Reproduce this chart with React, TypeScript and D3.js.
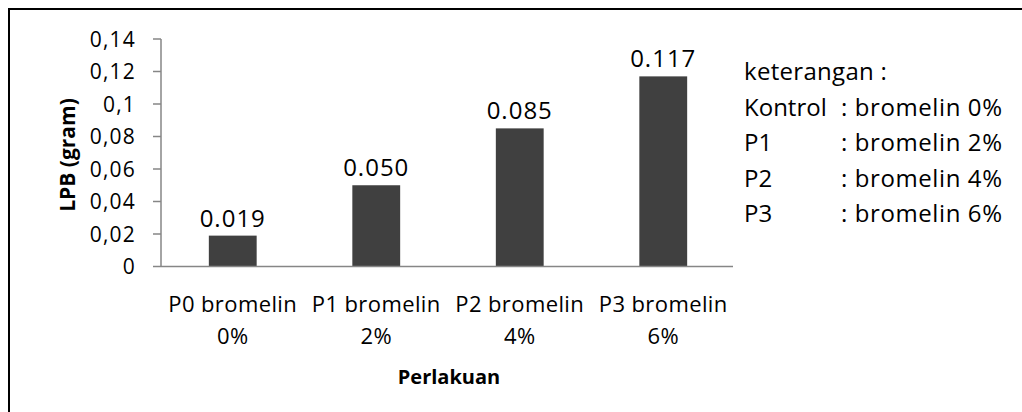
import React from "react";
import * as d3 from "d3";

const categories = ["P0 bromelin", "P1 bromelin", "P2 bromelin", "P3 bromelin"];
const categoryDoses = ["0%", "2%", "4%", "6%"];
const lpbValues = [0.019, 0.05, 0.085, 0.117];
const yTicks = [0, 0.02, 0.04, 0.06, 0.08, 0.1, 0.12, 0.14];
const legendTitle = "keterangan :";
const legendLabels = ["Kontrol", "P1", "P2", "P3"];
const legendDescs = [": bromelin 0%", ": bromelin 2%", ": bromelin 4%", ": bromelin 6%"];

const FONT = "'Open Sans', 'Noto Sans', sans-serif";

const commaLocale = d3.formatLocale({
  decimal: ",",
  thousands: ".",
  grouping: [3],
  currency: ["", ""],
});
const tickFmt = commaLocale.format("~g");
const labelFmt = d3.format(".3f");

const App: React.FC = () => {
  const width = 1022;
  const height = 412;
  const plot = { left: 161, right: 735, top: 39, bottom: 266.5 };

  const x = d3
    .scaleBand<string>()
    .domain(categories)
    .range([plot.left, plot.right])
    .paddingInner(2 / 3)
    .paddingOuter(1 / 3);

  const y = d3.scaleLinear().domain([0, 0.14]).range([plot.bottom, plot.top]);

  const axisColor = "#868686";
  const legendStep = 35.5;

  return (
    <svg
      width={width}
      height={height}
      style={{ position: "absolute", left: 0, top: 0, background: "#fff" }}
      fontFamily={FONT}
    >
      {/* outer frame, only top and left edge in view */}
      <rect x={9} y={9} width={1100} height={500} fill="none" stroke="#000" strokeWidth={2} />

      {/* bars */}
      {lpbValues.map((v, i) => (
        <rect
          key={categories[i]}
          x={x(categories[i])!}
          y={y(v)}
          width={x.bandwidth()}
          height={y(0) - y(v)}
          fill="#404040"
        />
      ))}

      {/* value labels */}
      {lpbValues.map((v, i) => (
        <text
          key={"l" + i}
          x={x(categories[i])! + x.bandwidth() / 2}
          y={y(v) - 9}
          textAnchor="middle"
          fontSize={24}
          letterSpacing={1}
          fill="#000"
        >
          {labelFmt(v)}
        </text>
      ))}

      {/* y axis */}
      <line x1={plot.left} x2={plot.left} y1={plot.top} y2={plot.bottom} stroke={axisColor} strokeWidth={1.5} />
      {yTicks.map((t) => (
        <g key={t}>
          <line x1={plot.left - 8} x2={plot.left} y1={y(t)} y2={y(t)} stroke={axisColor} strokeWidth={1.5} />
          <text
            x={136}
            y={y(t)}
            dy="0.36em"
            textAnchor="end"
            fontSize={21}
            letterSpacing={1.2}
            fill="#000"
          >
            {tickFmt(t)}
          </text>
        </g>
      ))}

      {/* x axis */}
      <line x1={plot.left} x2={plot.right - 2} y1={plot.bottom} y2={plot.bottom} stroke={axisColor} strokeWidth={1.5} />
      {categories.map((c, i) => (
        <text
          key={c}
          x={x(c)! + x.bandwidth() / 2}
          textAnchor="middle"
          fontSize={22}
          letterSpacing={0.4}
          fill="#000"
        >
          <tspan x={x(c)! + x.bandwidth() / 2} y={312}>{c}</tspan>
          <tspan x={x(c)! + x.bandwidth() / 2} y={344}>{categoryDoses[i]}</tspan>
        </text>
      ))}

      {/* axis titles */}
      <text x={449} y={384} textAnchor="middle" fontSize={20} fontWeight="bold" fill="#000">
        Perlakuan
      </text>
      <text
        transform="translate(75,155) rotate(-90)"
        textAnchor="middle"
        fontSize={21}
        fontWeight="bold"
        fill="#000"
      >
        LPB (gram)
      </text>

      {/* legend */}
      <text x={744} y={80} fontSize={24} letterSpacing={0.3} fill="#000">
        {legendTitle}
      </text>
      {legendLabels.map((lab, i) => (
        <g key={lab}>
          <text x={744} y={80 + (i + 1) * legendStep} fontSize={24} fill="#000">
            {lab}
          </text>
          <text x={841} y={80 + (i + 1) * legendStep} fontSize={24} letterSpacing={0.6} fill="#000">
            {legendDescs[i]}
          </text>
        </g>
      ))}
    </svg>
  );
};

export default App;
